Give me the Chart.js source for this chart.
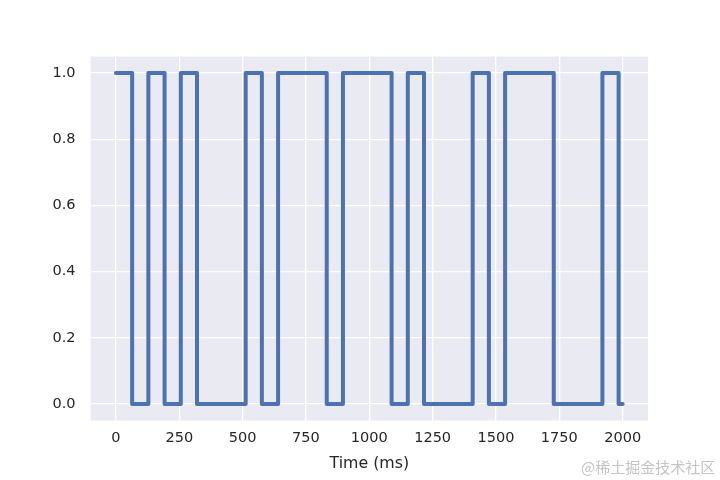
<!DOCTYPE html>
<html>
<head>
<meta charset="utf-8">
<script src="https://cdn.jsdelivr.net/npm/chart.js@4"></script>
<style>
  html, body { margin: 0; padding: 0; background: #ffffff; }
  #wrap { position: relative; width: 720px; height: 480px; }
  #wm { position: absolute; left: 581px; top: 456px; font-family: "Noto Sans CJK SC", sans-serif; font-size: 15px; color: #c4c4c4; white-space: nowrap; }
</style>
</head>
<body>
<div id="wrap">
  <canvas id="c" width="720" height="480"></canvas>
  <div id="wm">@稀土掘金技术社区</div>
</div>
<script>
// Step times (ms) where the signal level changes, and the level from that time on
const times  = [0, 64, 128, 192, 256, 320, 512, 576, 640, 832, 896, 1088, 1152, 1216, 1408, 1472, 1536, 1728, 1920, 1984, 2000];
const levels = [1, 0, 1, 0, 1, 0, 1, 0, 1, 0, 1, 0, 1, 0, 1, 0, 1, 0, 1, 0, 0];
const xTicks = [0, 250, 500, 750, 1000, 1250, 1500, 1750, 2000];
const yTicks = [0.0, 0.2, 0.4, 0.6, 0.8, 1.0];
const xLabel = "Time (ms)";

const points = times.map((t, i) => ({ x: t, y: levels[i] }));

const bgPlugin = {
  id: 'bg',
  beforeDraw(chart) {
    const { ctx, chartArea: a } = chart;
    ctx.save();
    ctx.fillStyle = '#EAEAF2';
    ctx.fillRect(a.left, a.top, a.right - a.left, a.bottom - a.top);
    ctx.restore();
  }
};

const FONT = "'DejaVu Sans', sans-serif";

new Chart(document.getElementById('c'), {
  type: 'line',
  data: {
    datasets: [{
      data: points,
      stepped: 'before',
      borderColor: '#4C72B0',
      borderWidth: 4,
      borderCapStyle: 'round',
      borderJoinStyle: 'round',
      pointRadius: 0,
      fill: false
    }]
  },
  options: {
    responsive: false,
    animation: false,
    layout: { padding: { left: 0, right: 72, top: 56.5, bottom: 0 } },
    plugins: { legend: { display: false }, tooltip: { enabled: false } },
    scales: {
      x: {
        type: 'linear',
        min: -100, max: 2100,
        afterBuildTicks(s) { s.ticks = xTicks.map(v => ({ value: v })); },
        afterFit(s) { s.height = 59.5; },
        grid: { color: '#ffffff', lineWidth: 1.3, drawTicks: false },
        border: { display: false },
        ticks: {
          padding: 9,
          color: '#262626',
          font: { family: FONT, size: 14.5 },
          maxRotation: 0,
          callback: v => String(v)
        },
        title: {
          display: true, text: xLabel, color: '#262626',
          font: { family: FONT, size: 15.8 },
          padding: { top: 0, bottom: 7 }
        }
      },
      y: {
        type: 'linear',
        min: -0.05, max: 1.05,
        afterBuildTicks(s) { s.ticks = yTicks.map(v => ({ value: v })); },
        afterFit(s) { s.width = 90.6; },
        grid: { color: '#ffffff', lineWidth: 1.3, drawTicks: false },
        border: { display: false },
        ticks: {
          padding: 15,
          color: '#262626',
          font: { family: FONT, size: 14.5 },
          callback: v => Number(v).toFixed(1)
        }
      }
    }
  },
  plugins: [bgPlugin]
});
</script>
</body>
</html>
